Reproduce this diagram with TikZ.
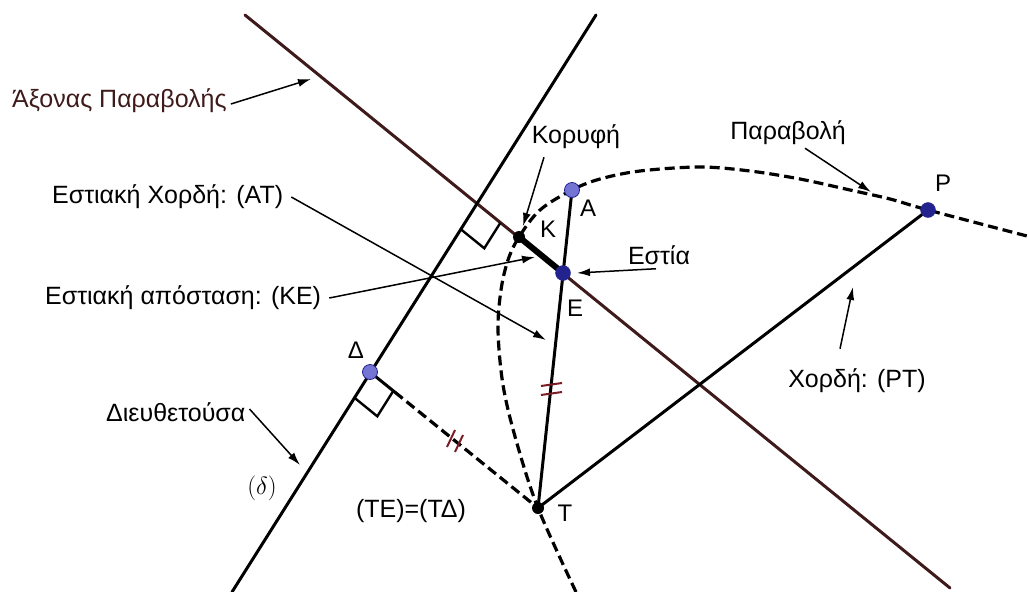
\documentclass[tikz,border=0pt]{standalone}
\usepackage{fontspec}
\setmainfont{Liberation Sans}
\usetikzlibrary{arrows.meta,calc}
\definecolor{axisc}{HTML}{3E1A1A}
\definecolor{tickc}{HTML}{7A1E24}
\definecolor{ptlight}{HTML}{7474D4}
\definecolor{ptdark}{HTML}{23238F}
\tikzset{
  mainline/.style={line width=3pt,line cap=round},
  dashline/.style={line width=3.2pt,dash pattern=on 10pt off 5pt},
  lbl/.style={inner sep=0pt,font=\fontsize{25}{28}\selectfont},
  ptlbl/.style={inner sep=0pt,font=\fontsize{24}{26}\selectfont},
  callout/.style={line width=1.5pt,-{Latex[length=13pt,width=8pt]}},
  lightdot/.style={circle,inner sep=0pt,minimum size=15pt,fill=ptlight,draw=ptdark,line width=0.8pt},
  darkdot/.style={circle,inner sep=0pt,minimum size=15pt,fill=ptdark,draw=ptdark},
  blackdot/.style={circle,inner sep=0pt,minimum size=12pt,fill=black},
  ticks/.style={line width=2pt,draw=tickc}
}
\begin{document}
\begin{tikzpicture}[x=1pt,y=-1pt]
\useasboundingbox (0,0) rectangle (1029,592);
% key points
\coordinate (axTop) at (245,15);
\coordinate (axBot) at (950,588);
\coordinate (dTop) at (596,15);
\coordinate (dBot) at (232,592);
\coordinate (I) at (477,204);
\coordinate (K) at (519,237);
\coordinate (E) at (563,273);
\coordinate (A) at (572,190);
\coordinate (D) at (370,372);
\coordinate (T) at (538,508);
\coordinate (P) at (928,210);
% parabola
\draw[dashline] plot[smooth,tension=0.55] coordinates {(576,592) (538,508) (516,440) (503,385) (498,330) (501,290) (508,260) (519,237) (540,210) (572,190) (600,179) (640,171) (700,167) (750,171) (800,179) (850,190) (890,199) (928,210) (1027,236)};
% axis and directrix
\draw[mainline,axisc] (axTop) -- (axBot);
\draw[mainline] (dTop) -- (dBot);
% right angle at axis/directrix
\draw[line width=2.4pt] ($(I)+(-16.0,25.4)$) -- ($(I)+(7.3,44.3)$) -- ($(I)+(23.3,18.9)$);
% perpendicular from T to directrix
\draw[dashline] ($(D)!32pt!(T)$) -- (T);
\draw[mainline] (D) -- ($(D)!32pt!(T)$);
\draw[line width=2.4pt] ($(D)+(-16.0,25.4)$) -- ($(D)+(7.3,44.3)$) -- ($(D)+(23.3,18.9)$);
% chords
\draw[mainline] (A) -- (T);
\draw[mainline] (T) -- (P);
\draw[line width=6pt] (K) -- (E);
% tick marks
\draw[ticks] (447,447) -- (455,430);
\draw[ticks] (455,452) -- (463,435);
\draw[ticks] (541,386) -- (562,383);
\draw[ticks] (541,395) -- (562,392);
% points
\node[lightdot] (nA) at (A) {};
\node[lightdot] (nD) at (D) {};
\node[darkdot] (nE) at (E) {};
\node[darkdot] (nP) at (P) {};
\node[blackdot] (nK) at (K) {};
\node[blackdot] (nT) at (T) {};
% point labels
\node[ptlbl] (lP) at (943,183) {P};
\node[ptlbl] (lA) at (588,208) {A};
\node[ptlbl] (lK) at (548,229) {K};
\node[ptlbl] (lE) at (575,308) {E};
\node[ptlbl] (lD) at (356,350) {Δ};
\node[ptlbl] (lT) at (565,513) {T};
% text labels
\node[lbl,text=axisc,anchor=west] (tAx) at (12,101) {Άξονας Παραβολής};
\node[lbl] (tKor) at (576,137) {Κορυφή};
\node[lbl] (tPar) at (788,133) {Παραβολή};
\node[lbl] (tEst) at (659,255) {Εστία};
\node[lbl,anchor=west] (tEX) at (52,197) {Εστιακή Χορδή: (ΑΤ)};
\node[lbl,anchor=west] (tEA) at (45,298) {Εστιακή απόσταση: (ΚΕ)};
\node[lbl,anchor=west] (tDie) at (106,412) {Διευθετούσα};
\node[lbl] (tXor) at (857,381) {Χορδή: (PT)};
\node[lbl] (tEq) at (411,511) {(ΤΕ)=(ΤΔ)};
\node[inner sep=0pt,font=\fontsize{27}{30}\selectfont] (tDel) at (262,488) {$(\delta)$};
% callout endpoints
\coordinate (cAx) at (311,79);
\coordinate (cKor) at (523,226);
\coordinate (cPar) at (871,192);
\coordinate (cEst) at (577,273);
\coordinate (cEX) at (546,340);
\coordinate (cEA) at (535,257);
\coordinate (cDie) at (300,465);
\coordinate (cXor) at (853,287);
% callouts
\draw[callout] (tAx.east) ++(4,3) -- (cAx);
\draw[callout] (tKor.south) ++(-32,8) -- (cKor);
\draw[callout] (tPar.south) ++(17,3) -- (cPar);
\draw[callout] (tEst.south) ++(-3,4) -- (cEst);
\draw[callout] (tEX.east) ++(8,0) -- (cEX);
\draw[callout] (tEA.east) ++(8,0) -- (cEA);
\draw[callout] (tDie.east) ++(4,-3) -- (cDie);
\draw[callout] (tXor.north) ++(-17,-20) -- (cXor);
\end{tikzpicture}
\end{document}
